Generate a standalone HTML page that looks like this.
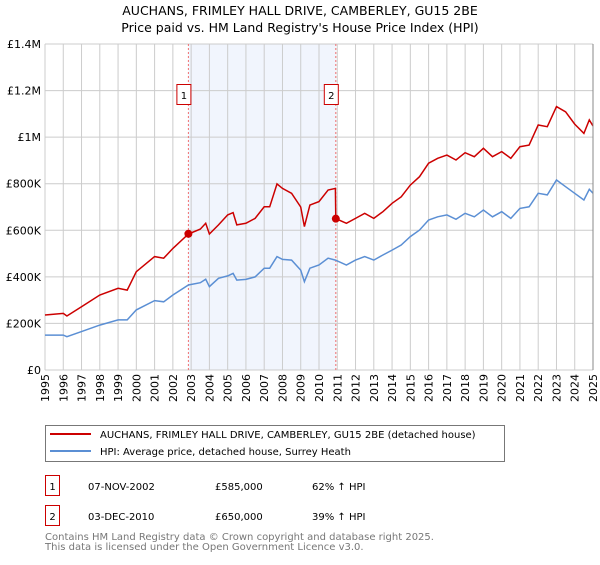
<!DOCTYPE html>
<html><head><meta charset="utf-8"><style>
body{margin:0;background:#fff;}
svg text{font-family:"DejaVu Sans","Liberation Sans",sans-serif;}
</style></head><body>
<svg id="chart" width="600" height="560" xmlns="http://www.w3.org/2000/svg">
<text x="300" y="15" text-anchor="middle" font-size="12.5" fill="#000">AUCHANS, FRIMLEY HALL DRIVE, CAMBERLEY, GU15 2BE</text>
<text x="300" y="32" text-anchor="middle" font-size="12.5" fill="#000">Price paid vs. HM Land Registry's House Price Index (HPI)</text>
<g id="plot"></g>
<g>
<rect x="45.5" y="425.5" width="459" height="36" fill="#fff" stroke="#777"/>
<line x1="50" y1="434" x2="91" y2="434" stroke="#cc0000" stroke-width="2"/>
<text x="100" y="438" font-size="10">AUCHANS, FRIMLEY HALL DRIVE, CAMBERLEY, GU15 2BE (detached house)</text>
<line x1="50" y1="451" x2="91" y2="451" stroke="#5b8fd4" stroke-width="2"/>
<text x="100" y="455" font-size="10">HPI: Average price, detached house, Surrey Heath</text>
</g>
<g font-size="10">
<rect x="45.5" y="475.5" width="14" height="20" fill="#fff" stroke="#cc0000"/>
<text x="52.5" y="490" text-anchor="middle">1</text>
<text x="88" y="490">07-NOV-2002</text><text x="215" y="490">£585,000</text><text x="312" y="490">62% ↑ HPI</text>
<rect x="45.5" y="505.5" width="14" height="20" fill="#fff" stroke="#cc0000"/>
<text x="52.5" y="520" text-anchor="middle">2</text>
<text x="88" y="520">03-DEC-2010</text><text x="215" y="520">£650,000</text><text x="312" y="520">39% ↑ HPI</text>
</g>
<text x="45" y="540" font-size="10" fill="#777">Contains HM Land Registry data © Crown copyright and database right 2025.</text>
<text x="45" y="550" font-size="10" fill="#777">This data is licensed under the Open Government Licence v3.0.</text>
</svg>
<script>
const years=[1995,1996,1996.2,1997,1998,1999,1999.5,2000,2001,2001.5,2002,2002.85,2003.5,2003.8,2004,2004.5,2005,2005.3,2005.5,2006,2006.5,2007,2007.3,2007.7,2008,2008.5,2009,2009.2,2009.5,2010,2010.5,2010.9,2011.5,2012,2012.5,2013,2013.5,2014,2014.5,2015,2015.5,2016,2016.5,2017,2017.5,2018,2018.5,2019,2019.5,2020,2020.5,2021,2021.5,2022,2022.5,2023,2023.5,2024,2024.5,2024.8,2025];
const hpiValues=[150,150,143,165,193,215,215,258,298,293,322,365,375,390,358,394,404,415,386,389,400,437,437,487,475,472,429,379,437,451,480,472,451,472,487,472,494,515,537,573,601,644,658,666,647,673,658,687,658,680,651,694,701,759,752,816,787,759,730,776,759];
const redYears=[1995,1996,1996.2,1997,1998,1999,1999.5,2000,2001,2001.5,2002,2002.85,2003.5,2003.8,2004,2004.5,2005,2005.3,2005.5,2006,2006.5,2007,2007.3,2007.7,2008,2008.5,2009,2009.2,2009.5,2010,2010.5,2010.9,2010.92,2011.5,2012,2012.5,2013,2013.5,2014,2014.5,2015,2015.5,2016,2016.5,2017,2017.5,2018,2018.5,2019,2019.5,2020,2020.5,2021,2021.5,2022,2022.5,2023,2023.5,2024,2024.5,2024.8,2025];
const redValues=[236,243,232,272,322,351,343,422,487,480,522,584,605,630,584,623,666,676,623,630,651,701,701,799,780,759,700,616,708,723,773,780,650,630,651,673,651,680,716,744,794,830,888,909,923,902,933,916,952,916,938,909,959,966,1052,1045,1131,1109,1056,1016,1074,1048];
const saleYears=[2002.85,2010.92];
const saleValues=[585,650];
const yTicks=[0,200,400,600,800,1000,1200,1400];
const yTickLabels=["£0","£200K","£400K","£600K","£800K","£1M","£1.2M","£1.4M"];
const xTicks=[1995,1996,1997,1998,1999,2000,2001,2002,2003,2004,2005,2006,2007,2008,2009,2010,2011,2012,2013,2014,2015,2016,2017,2018,2019,2020,2021,2022,2023,2024,2025];

const X0=45,X1=593,Y0=370,Y1=44;
const xs=y=>X0+(y-1995)/30*(X1-X0);
const ys=v=>Y0-v/1400*(Y0-Y1);
const NS="http://www.w3.org/2000/svg";
const g=document.getElementById('plot');
function mk(t,a){const e=document.createElementNS(NS,t);for(const k in a)e.setAttribute(k,a[k]);g.appendChild(e);return e;}
let e;
e=mk('rect',{x:xs(saleYears[0]),y:Y1,width:xs(saleYears[1])-xs(saleYears[0]),height:Y0-Y1,fill:'#eef3fc',opacity:0.8});


xTicks.forEach(t=>{
 e=mk('line',{x1:xs(t),x2:xs(t),y1:Y1,y2:Y0,stroke:'#cccccc','stroke-width':1});
 
 
 e=mk('text',{x:0,y:0,'font-size':11,'text-anchor':'end',transform:`translate(${xs(t)+4},${Y0+4}) rotate(-90)`});
 e.textContent=t;
 
 
});
yTicks.forEach((t,i)=>{
 e=mk('line',{x1:X0,x2:X1,y1:ys(t),y2:ys(t),stroke:'#cccccc','stroke-width':1});
 
 
 e=mk('text',{x:X0-4,y:ys(t)+4,'font-size':11,'text-anchor':'end'});
 e.textContent=yTickLabels[i];
 
 
});
saleYears.forEach((s,i)=>{
 e=mk('line',{x1:xs(s),x2:xs(s),y1:Y1,y2:Y0,stroke:'#f07070','stroke-width':1,'stroke-dasharray':'2,2'});
 
 
 e=mk('rect',{x:xs(s)-11.5,y:84.5,width:14,height:20,fill:'#fff',stroke:'#cc0000'});
 
 
 e=mk('text',{x:xs(s)-4.5,y:99,'font-size':10,'text-anchor':'middle'});
 e.textContent=i+1;
 
 
});
e=mk('path',{d:years.map((y,i)=>(i?'L':'M')+xs(y).toFixed(1)+','+ys(hpiValues[i]).toFixed(1)).join(''),fill:'none',stroke:'#5b8fd4','stroke-width':1.5});


e=mk('path',{d:redYears.map((y,i)=>(i?'L':'M')+xs(y).toFixed(1)+','+ys(redValues[i]).toFixed(1)).join(''),fill:'none',stroke:'#cc0000','stroke-width':1.5});


saleYears.forEach((s,i)=>{
 e=mk('circle',{cx:xs(s),cy:ys(saleValues[i]),r:4,fill:'#cc0000'});
 
 
});
e=mk('line',{x1:X1,x2:X1,y1:Y1,y2:Y0,stroke:'#888','stroke-width':1});


</script>
</body></html>
